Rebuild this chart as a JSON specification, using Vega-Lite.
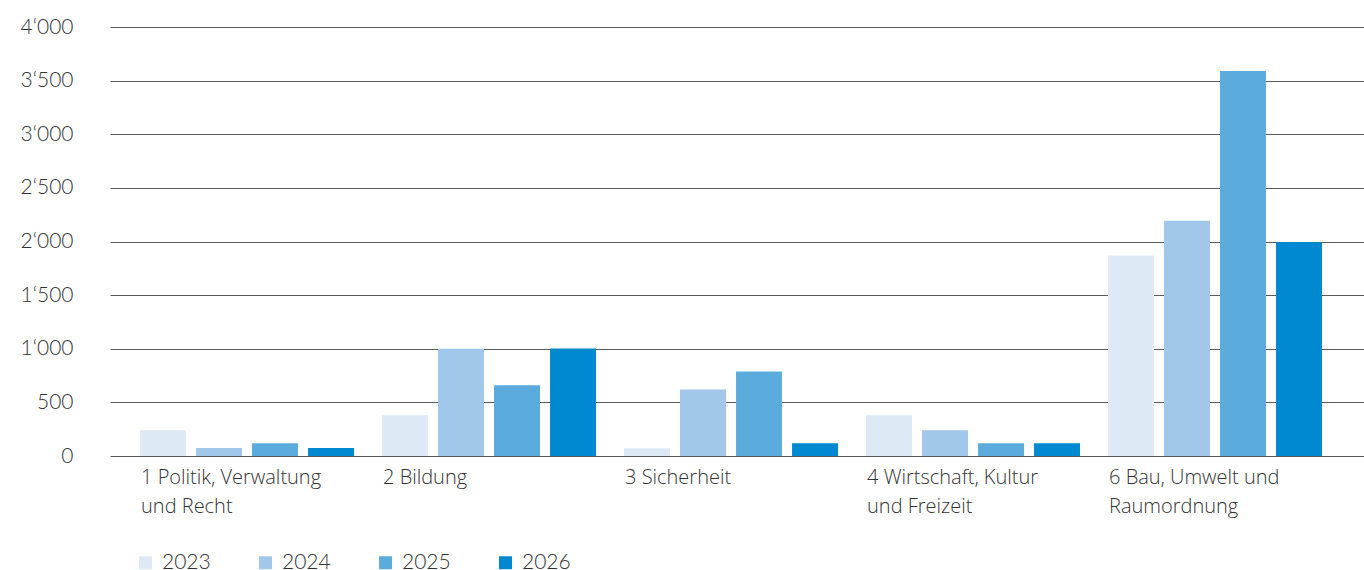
{
  "$schema": "https://vega.github.io/schema/vega-lite/v6.json",
  "autosize": "none",
  "width": 1254,
  "height": 429,
  "padding": {"left": 110, "top": 27, "right": 0, "bottom": 114},
  "background": "white",
  "config": {"view": {"stroke": null}},
  "data": {
    "values": [
      {"category": "1 Politik, Verwaltung und Recht", "year": "2023", "value": 240},
      {"category": "1 Politik, Verwaltung und Recht", "year": "2024", "value": 74},
      {"category": "1 Politik, Verwaltung und Recht", "year": "2025", "value": 120},
      {"category": "1 Politik, Verwaltung und Recht", "year": "2026", "value": 74},
      {"category": "2 Bildung", "year": "2023", "value": 381},
      {"category": "2 Bildung", "year": "2024", "value": 1000},
      {"category": "2 Bildung", "year": "2025", "value": 660},
      {"category": "2 Bildung", "year": "2026", "value": 1003},
      {"category": "3 Sicherheit", "year": "2023", "value": 72},
      {"category": "3 Sicherheit", "year": "2024", "value": 621},
      {"category": "3 Sicherheit", "year": "2025", "value": 789},
      {"category": "3 Sicherheit", "year": "2026", "value": 118},
      {"category": "4 Wirtschaft, Kultur und Freizeit", "year": "2023", "value": 380},
      {"category": "4 Wirtschaft, Kultur und Freizeit", "year": "2024", "value": 239},
      {"category": "4 Wirtschaft, Kultur und Freizeit", "year": "2025", "value": 118},
      {"category": "4 Wirtschaft, Kultur und Freizeit", "year": "2026", "value": 118},
      {"category": "6 Bau, Umwelt und Raumordnung", "year": "2023", "value": 1869},
      {"category": "6 Bau, Umwelt und Raumordnung", "year": "2024", "value": 2194},
      {"category": "6 Bau, Umwelt und Raumordnung", "year": "2025", "value": 3590},
      {"category": "6 Bau, Umwelt und Raumordnung", "year": "2026", "value": 1995}
    ]
  },
  "mark": {"type": "bar"},
  "encoding": {
    "x": {
      "field": "category",
      "type": "nominal",
      "sort": null,
      "scale": {"paddingInner": 0.1157, "paddingOuter": 0.1488, "align": 0.417},
      "axis": {
        "title": null,
        "domain": false,
        "ticks": false,
        "labelAngle": 0,
        "labelOffset": -106,
        "labelAlign": "left",
        "labelBaseline": "top",
        "labelPadding": 11,
        "labelFont": "Open Sans",
        "labelFontWeight": 300,
        "labelFontSize": 20,
        "labelLineHeight": 29,
        "labelColor": "#333333",
        "labelLimit": 300,
        "labelExpr": "datum.label == '1 Politik, Verwaltung und Recht' ? ['1 Politik,  Verwaltung', 'und Recht'] : datum.label == '4 Wirtschaft, Kultur und Freizeit' ? ['4 Wirtschaft, Kultur', 'und Freizeit'] : datum.label == '6 Bau, Umwelt und Raumordnung' ? ['6 Bau, Umwelt und', 'Raumordnung'] : datum.label"
      }
    },
    "xOffset": {
      "field": "year",
      "type": "nominal",
      "scale": {"paddingInner": 0.179, "paddingOuter": 0}
    },
    "y": {
      "field": "value",
      "type": "quantitative",
      "scale": {"domain": [0, 4000], "nice": false},
      "axis": {
        "title": null,
        "domain": false,
        "ticks": false,
        "values": [0, 500, 1000, 1500, 2000, 2500, 3000, 3500, 4000],
        "grid": true,
        "gridColor": "#5a5a5a",
        "gridWidth": 1,
        "gridOpacity": 1,
        "labelPadding": 37,
        "labelFont": "Lato",
        "labelFontWeight": 300,
        "labelFontSize": 21,
        "labelColor": "#333333",
        "labelExpr": "replace(format(datum.value, ','), ',', '‘')"
      }
    },
    "color": {
      "field": "year",
      "type": "nominal",
      "scale": {
        "domain": ["2023", "2024", "2025", "2026"],
        "range": ["#ddeaf6", "#a1c7ea", "#5babdd", "#0088d0"]
      },
      "legend": {
        "title": null,
        "orient": "none",
        "direction": "horizontal",
        "legendX": 25,
        "legendY": 525,
        "symbolType": "square",
        "symbolSize": 169,
        "symbolStrokeWidth": 0,
        "labelFont": "Lato",
        "labelFontWeight": 300,
        "labelFontSize": 21,
        "labelColor": "#333333",
        "labelOffset": 6,
        "columnPadding": 44
      }
    }
  }
}
